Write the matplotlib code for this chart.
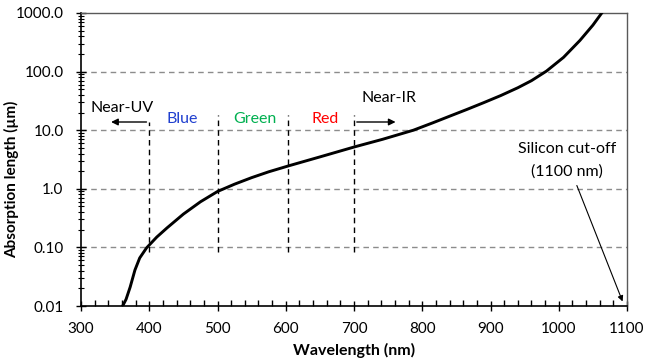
import numpy as np
import matplotlib
matplotlib.use("Agg")
import matplotlib.pyplot as plt
from matplotlib.ticker import FixedLocator, LogLocator, NullFormatter, MultipleLocator

plt.rcParams['font.family'] = ['Lato', 'DejaVu Sans']

# absorption length of silicon
wavelength = [361, 366, 372, 379, 386, 396, 411, 426, 450, 475, 500, 525, 550,
              575, 605, 650, 701, 742, 787, 815, 841, 865, 890, 915, 940, 960,
              982, 1007, 1031, 1050, 1063]
abs_length = [0.01, 0.013, 0.021, 0.041, 0.066, 0.098, 0.15, 0.215, 0.37,
              0.6, 0.9, 1.2, 1.55, 1.95, 2.48, 3.5, 5.2, 7.0, 10.0, 13.3, 17.5,
              22.5, 29.5, 39.0, 53.0, 70.0, 102.0, 175.0, 340.0, 620.0, 1000.0]

band_edges = [400, 500, 604, 700]
band_names = ["Blue", "Green", "Red"]
band_colors = ["#1f3fcf", "#00b050", "#ff0000"]
band_label_x = [448, 555, 657]

y_ticks = [0.01, 0.1, 1, 10, 100, 1000]
y_tick_labels = ["0.01", "0.10", "1.0", "10.0", "100.0", "1000.0"]

fig = plt.figure(figsize=(6.46, 3.6), dpi=100)
ax = fig.add_axes([0.1254, 0.15, 0.8452, 0.8139])

ax.plot(wavelength, abs_length, color="black", lw=2.1, solid_joinstyle="round",
        zorder=3)

ax.set_yscale("log")
ax.set_xlim(300, 1100)
ax.set_ylim(0.01, 1000)

ax.xaxis.set_major_locator(MultipleLocator(100))
ax.xaxis.set_minor_locator(MultipleLocator(20))
ax.yaxis.set_major_locator(FixedLocator(y_ticks))
ax.set_yticklabels(y_tick_labels)
ax.yaxis.set_minor_locator(LogLocator(base=10, subs=np.arange(2, 10)))
ax.yaxis.set_minor_formatter(NullFormatter())

ax.tick_params(axis="both", which="major", direction="inout", length=7, width=1,
               labelsize=11, color="black")
ax.tick_params(axis="x", which="major", pad=8)
ax.tick_params(axis="y", which="major", pad=9)
ax.tick_params(axis="x", which="minor", direction="in", length=4, width=1)
ax.tick_params(axis="y", which="minor", direction="inout", length=4, width=0.8)

for y in y_ticks[1:-1]:
    ax.axhline(y, color="#8c8c8c", lw=1, ls=(0, (4, 3)), zorder=1)

for s in ["left", "bottom"]:
    ax.spines[s].set_color("black")
    ax.spines[s].set_linewidth(1.2)
for s in ["top", "right"]:
    ax.spines[s].set_color("#595959")
    ax.spines[s].set_linewidth(1.0)

# band separators
for i, x in enumerate(band_edges):
    top = 13.8 if i == 0 else 18
    ax.plot([x, x], [0.083, top], color="black", lw=1, ls=(0, (4, 3)), zorder=2)

for name, c, x in zip(band_names, band_colors, band_label_x):
    ax.text(x, 15.5, name, color=c, fontsize=11.5, ha="center", va="center")

ax.annotate("", xy=(340, 13.8), xytext=(400, 13.8),
            arrowprops=dict(arrowstyle="-|>", color="black", lw=1, mutation_scale=10))
ax.text(360, 24, "Near-UV", fontsize=11.5, ha="center", va="center")

ax.annotate("", xy=(765, 13.8), xytext=(700, 13.8),
            arrowprops=dict(arrowstyle="-|>", color="black", lw=1, mutation_scale=10))
ax.text(751, 35, "Near-IR", fontsize=11.5, ha="center", va="center")

ax.text(1012, 4.8, "Silicon cut-off", fontsize=11.5, ha="center", va="center")
ax.text(1012, 1.94, "(1100 nm)", fontsize=11.5, ha="center", va="center")
ax.annotate("", xy=(1095, 0.0108), xytext=(1025, 1.26),
            arrowprops=dict(arrowstyle="-|>", color="black", lw=0.8, mutation_scale=8))

ax.set_xlabel("Wavelength (nm)", fontsize=11.5, fontweight="bold", labelpad=5)
ax.set_ylabel("Absorption length (µm)", fontsize=11, fontweight="bold")
ax.yaxis.set_label_coords(-0.1136, 0.433)

fig.savefig("out.png", dpi=100)
